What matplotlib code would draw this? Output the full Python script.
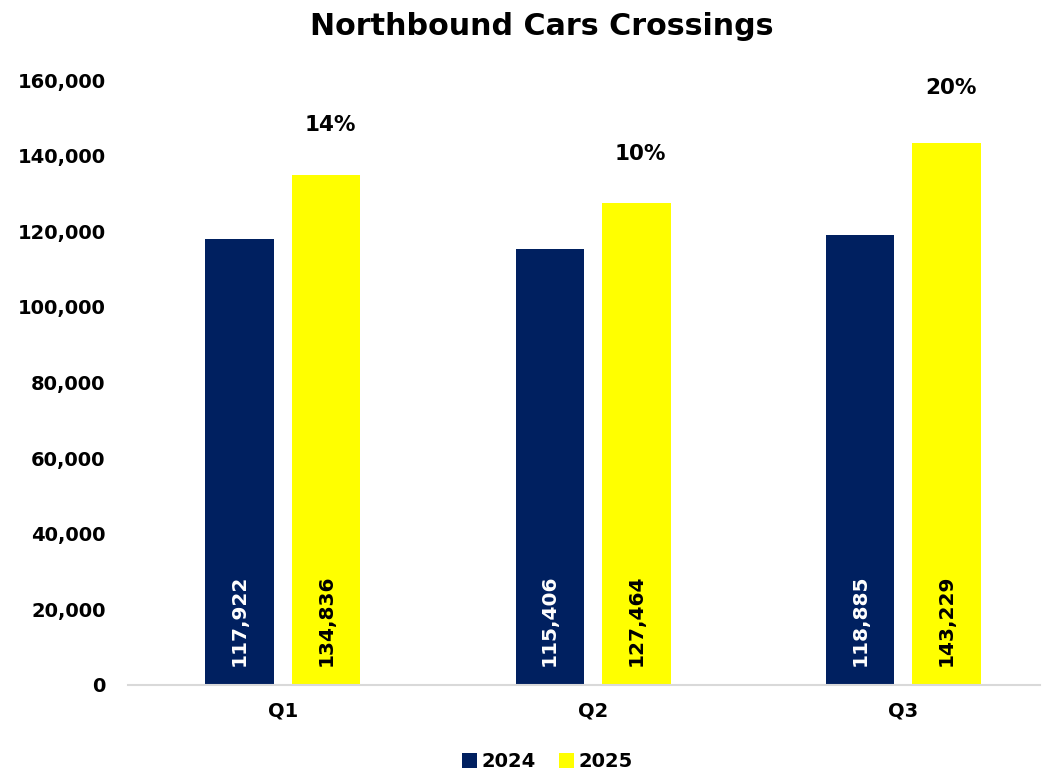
import matplotlib
matplotlib.use('Agg')
import matplotlib.pyplot as plt
import numpy as np

quarters = ['Q1', 'Q2', 'Q3']
cars_2024 = [117922, 115406, 118885]
cars_2025 = [134836, 127464, 143229]
growth = ['14%', '10%', '20%']
growth_offset = [36, 35, 40]  # points above the 2025 bar

plt.rcParams['font.family'] = ['DejaVu Sans']

fig = plt.figure(figsize=(10.48, 7.79), dpi=100)
ax = fig.add_axes([0.122, 0.1207, 0.87, 0.7766])

x = np.arange(len(quarters))
w = 0.22
b1 = ax.bar(x - 0.14, cars_2024, w, color='#002060', label='2024')
b2 = ax.bar(x + 0.14, cars_2025, w, color='#FFFF00', label='2025')

for rect, v in zip(b1, cars_2024):
    ax.annotate(f"{v:,}", (rect.get_x() + rect.get_width()/2, 0), xytext=(0, 14),
                textcoords='offset points', rotation=90, ha='center', va='bottom',
                color='white', fontsize=14.5, fontweight='bold')
for rect, v in zip(b2, cars_2025):
    ax.annotate(f"{v:,}", (rect.get_x() + rect.get_width()/2, 0), xytext=(0, 14),
                textcoords='offset points', rotation=90, ha='center', va='bottom',
                color='black', fontsize=14.5, fontweight='bold')

for rect, g, off in zip(b2, growth, growth_offset):
    ax.annotate(g, (rect.get_x() + rect.get_width()/2, rect.get_height()), xytext=(3, off),
                textcoords='offset points', ha='center', va='center',
                fontsize=15.5, fontweight='bold', annotation_clip=False)

ax.set_xlim(-0.5, 2.44)
ax.set_ylim(0, 160000)
ax.set_yticks(np.arange(0, 160001, 20000))
ax.yaxis.set_major_formatter(matplotlib.ticker.FuncFormatter(lambda v, p: f"{int(v):,}"))
ax.set_xticks(x)
ax.set_xticklabels(quarters)
for lbl in ax.get_xticklabels() + ax.get_yticklabels():
    lbl.set_fontweight('bold')
    lbl.set_fontsize(14)
ax.tick_params(axis='both', length=0)
ax.tick_params(axis='y', pad=16)
ax.tick_params(axis='x', pad=12)

for s in ['top', 'right', 'left']:
    ax.spines[s].set_visible(False)
ax.spines['bottom'].set_color('#d9d9d9')
ax.spines['bottom'].set_linewidth(1.5)

fig.suptitle('Northbound Cars Crossings', x=0.517, y=0.985, fontsize=21.7, fontweight='bold')

fig.legend(handles=[b1, b2], loc='lower center', bbox_to_anchor=(0.522, -0.012), ncol=2,
           frameon=False, prop={'weight': 'bold', 'size': 14}, handlelength=0.8,
           handleheight=0.8, handletextpad=0.2, columnspacing=1.2)

fig.savefig('out.png', dpi=100)
